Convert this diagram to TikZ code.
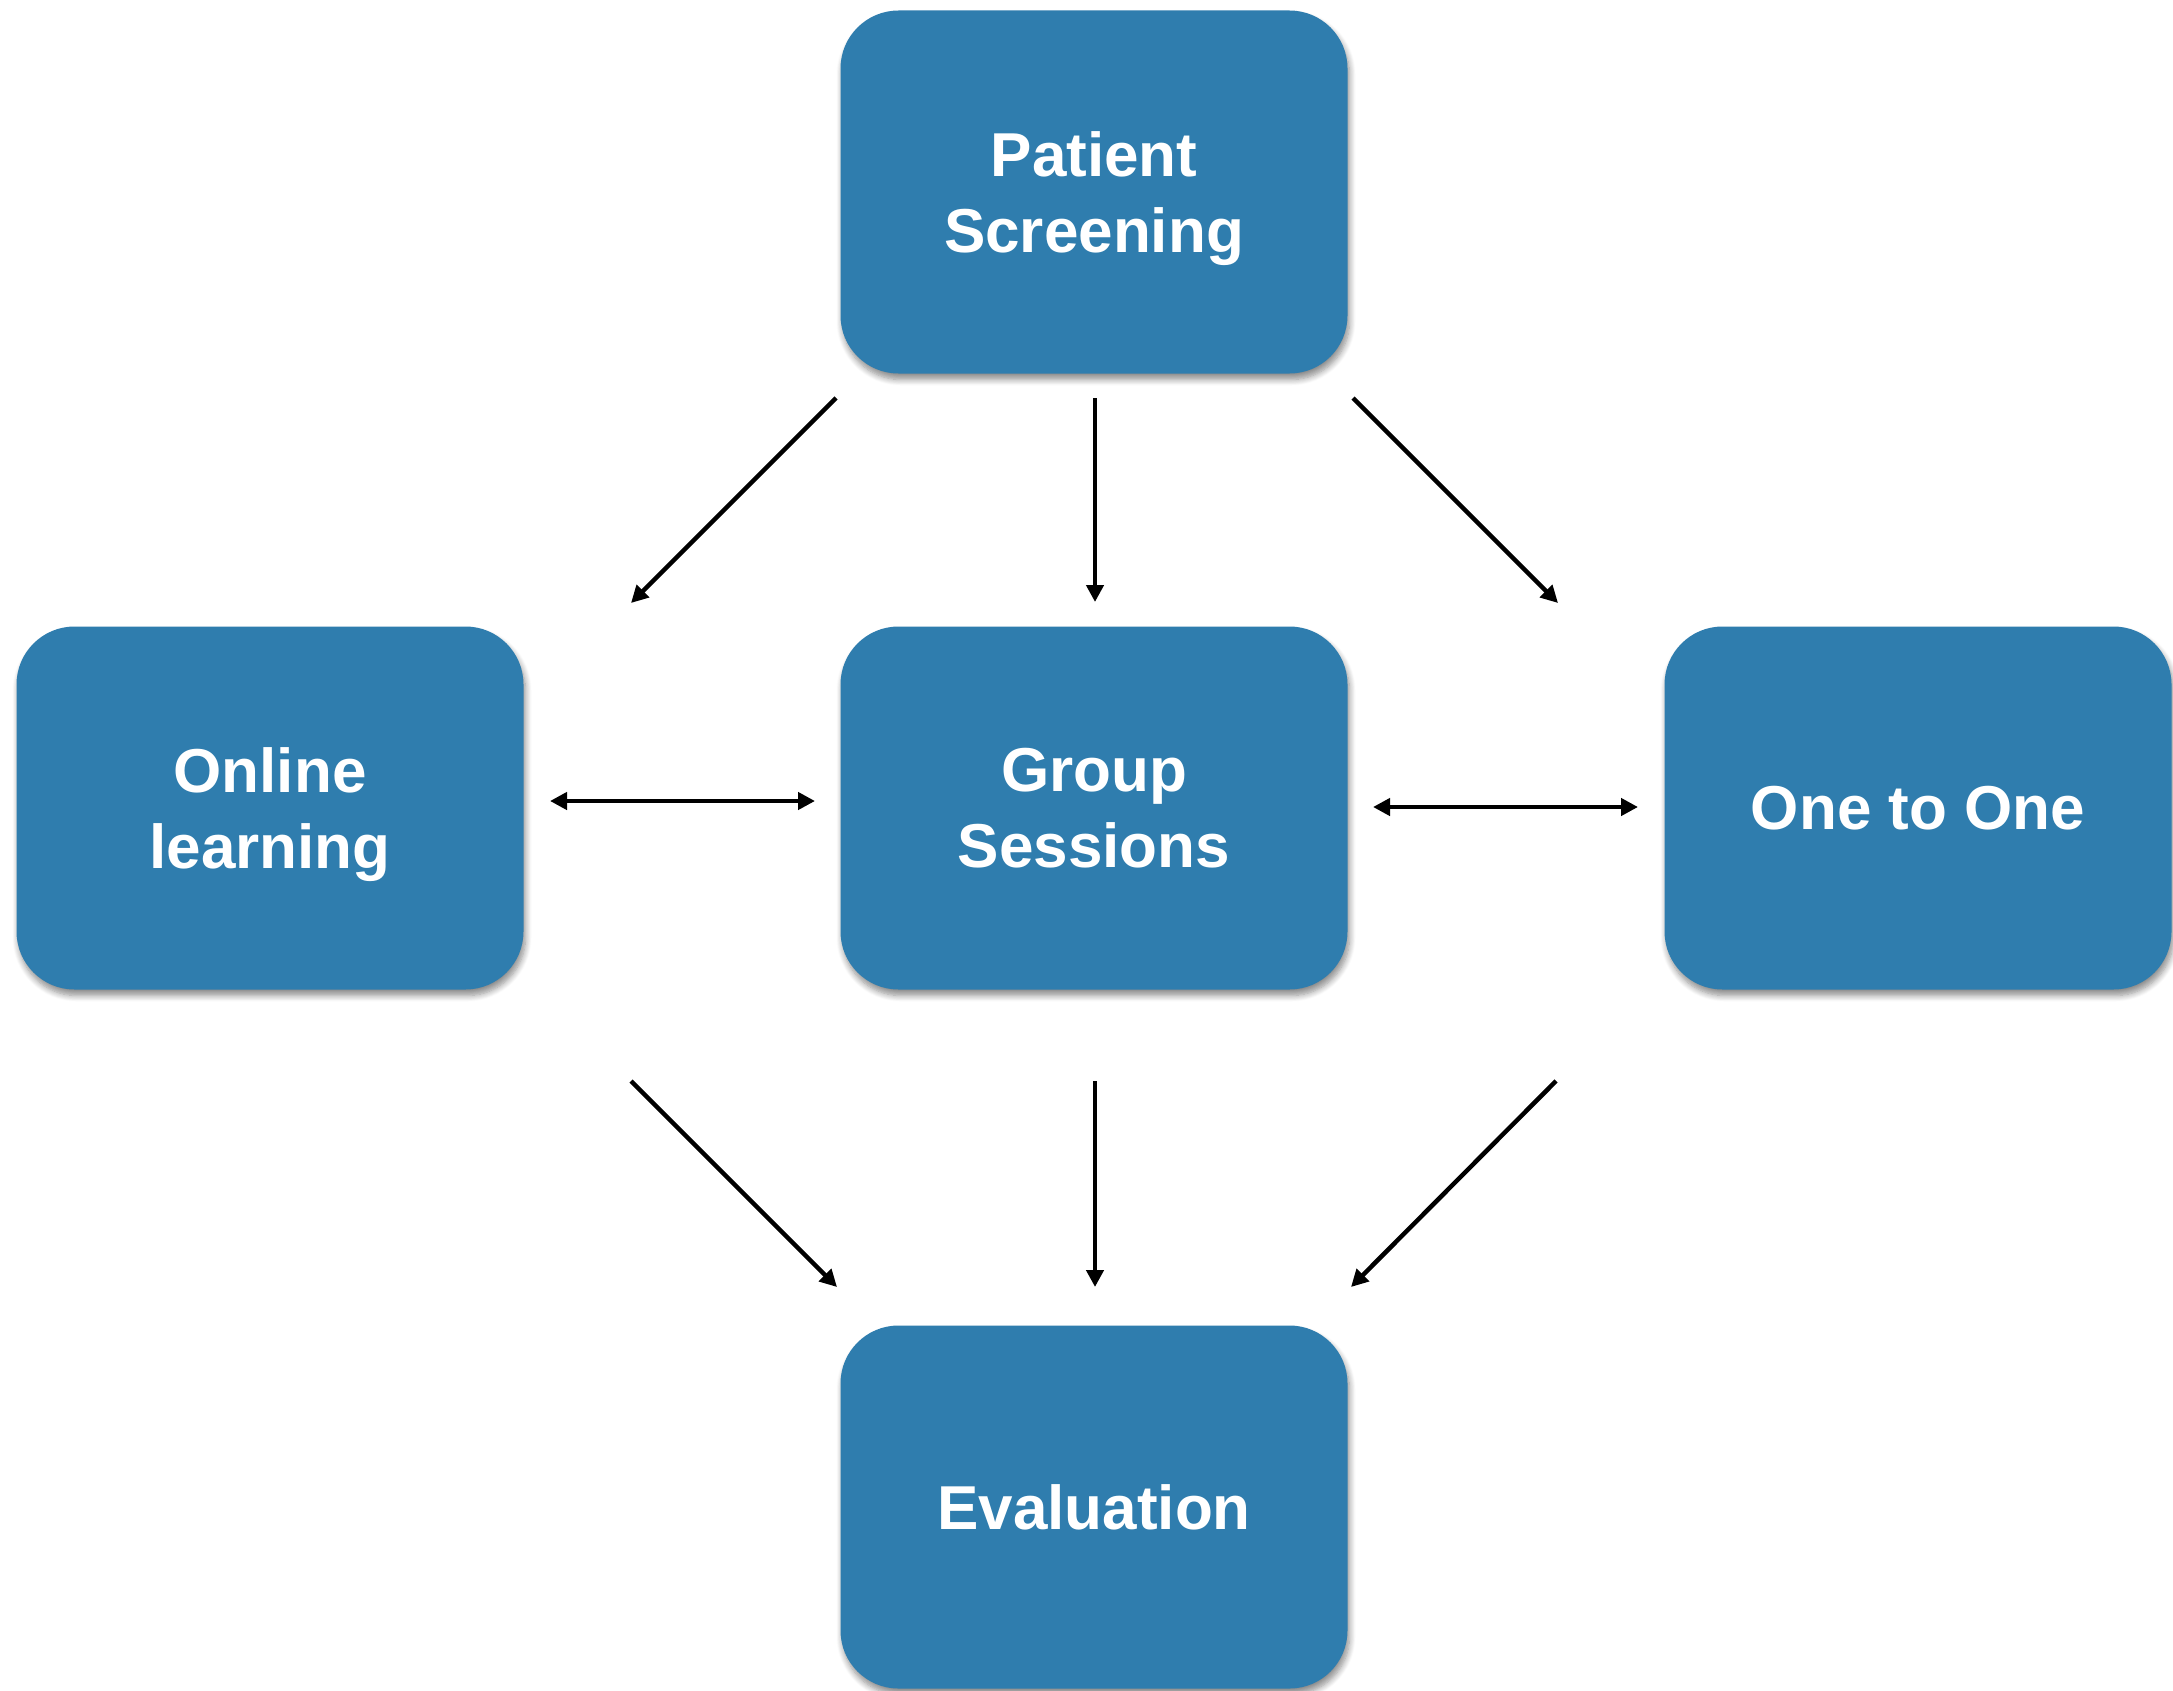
\documentclass[tikz,border=0pt]{standalone}
\usepackage{fontspec}
\setmainfont{Liberation Sans}
\usetikzlibrary{arrows.meta,shadows.blur}
\definecolor{boxblue}{RGB}{47,125,174}
\begin{document}
\begin{tikzpicture}[x=1pt,y=-1pt,
  box/.style={rectangle, rounded corners=58pt, fill=boxblue, text=white,
    minimum width=507pt, minimum height=363pt, align=center, text depth=0pt,
    font=\fontsize{62}{76}\selectfont\bfseries,
    blur shadow={shadow xshift=2pt, shadow yshift=-6pt, shadow blur radius=6pt, shadow blur steps=8, shadow opacity=45}},
  arr/.style={line width=4.5pt, -{Triangle[length=17pt,width=17pt]}},
  darr/.style={line width=4.5pt, {Triangle[length=17pt,width=17pt]}-{Triangle[length=17pt,width=17pt]}}]
\useasboundingbox (0,0) rectangle (2173,1691);
\node[box] (ps) at (1094,192) {Patient\\Screening};
\node[box] (ol) at (270,808) {Online\\learning};
\node[box] (gs) at (1094,808) {Group\\Sessions};
\node[box] (oo) at (1918,808) {One to One};
\node[box] (ev) at (1094,1507) {Evaluation};
% arrow end points
\coordinate (a1s) at (836,398);  \coordinate (a1e) at (631,603);
\coordinate (a2s) at (1095,398); \coordinate (a2e) at (1095,602);
\coordinate (a3s) at (1353,398); \coordinate (a3e) at (1558,603);
\coordinate (b1s) at (550,801);  \coordinate (b1e) at (815,801);
\coordinate (b2s) at (1373,807); \coordinate (b2e) at (1638,807);
\coordinate (c1s) at (631,1081); \coordinate (c1e) at (837,1287);
\coordinate (c2s) at (1095,1081);\coordinate (c2e) at (1095,1287);
\coordinate (c3s) at (1556,1081);\coordinate (c3e) at (1351,1287);
\draw[arr] (a1s) -- (a1e);
\draw[arr] (a2s) -- (a2e);
\draw[arr] (a3s) -- (a3e);
\draw[darr] (b1s) -- (b1e);
\draw[darr] (b2s) -- (b2e);
\draw[arr] (c1s) -- (c1e);
\draw[arr] (c2s) -- (c2e);
\draw[arr] (c3s) -- (c3e);
\end{tikzpicture}
\end{document}
